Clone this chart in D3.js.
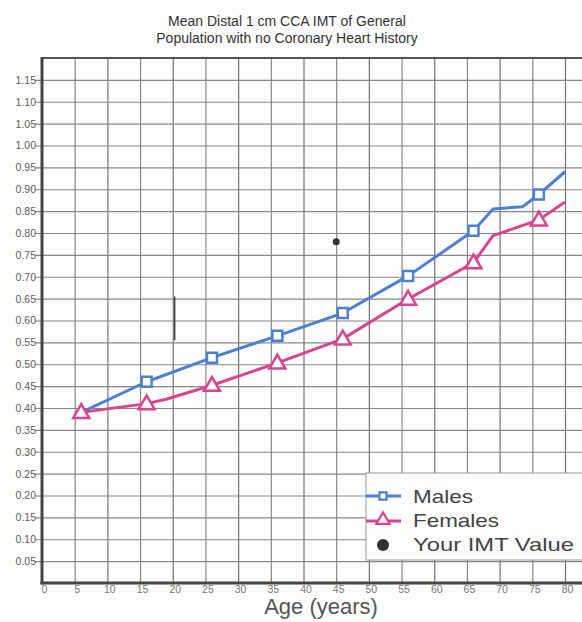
<!DOCTYPE html>
<html>
<head>
<meta charset="utf-8">
<script src="https://cdn.jsdelivr.net/npm/d3@7/dist/d3.min.js"></script>
<style>
  html, body { margin: 0; padding: 0; background: #fff; }
  svg { display: block; font-family: "Liberation Sans", Arial, sans-serif; }
</style>
</head>
<body>
<svg id="chart" width="582" height="622"></svg>
<script>
// ---- data ----
const titleLines = ["Mean Distal 1 cm CCA IMT of General", "Population with no Coronary Heart History"];
const xTicks = [0, 5, 10, 15, 20, 25, 30, 35, 40, 45, 50, 55, 60, 65, 70, 75, 80];
const yTicks = [0.05, 0.10, 0.15, 0.20, 0.25, 0.30, 0.35, 0.40, 0.45, 0.50, 0.55, 0.60, 0.65, 0.70, 0.75, 0.80, 0.85, 0.90, 0.95, 1.00, 1.05, 1.10, 1.15];
const maleAges   = [6, 16, 26, 36, 46, 56, 66, 69, 73.5, 76, 80];
const maleValues = [0.39, 0.46, 0.515, 0.565, 0.617, 0.702, 0.805, 0.855, 0.86, 0.888, 0.94];
const maleMarkerAges = [16, 26, 36, 46, 56, 66, 76];
const femaleAges   = [6, 16, 19, 26, 36, 46, 56, 66, 69, 76, 80];
const femaleValues = [0.39, 0.41, 0.42, 0.452, 0.503, 0.558, 0.649, 0.732, 0.794, 0.83, 0.871];
const femaleMarkerAges = [6, 16, 26, 36, 46, 56, 66, 76];
const yourAge = [45];
const yourValue = [0.78];
const legendLabels = ["Males", "Females", "Your IMT Value"];
const xTitle = "Age (years)";

// ---- layout ----
const W = 582, H = 622;
const svg = d3.select("#chart");
const x = d3.scaleLinear().domain([0, 80]).range([42, 565]);
const y = d3.scaleLinear().domain([0, 1.2]).range([583, 58]);
const xRight = W;
const blue = "#4d80d0", pink = "#d8448e";

// background
svg.append("rect").attr("width", W).attr("height", H).attr("fill", "#fdfdfd");

// grid (vertical)
const gx = svg.append("g").attr("transform", `translate(0,${y(0)})`)
  .call(d3.axisBottom(x).tickValues(xTicks.filter(d => d > 0)).tickSize(-(y(0) - y(1.2))).tickFormat(""));
gx.select(".domain").remove();
gx.selectAll(".tick line").attr("stroke", d => d % 10 === 0 ? "#737373" : "#878787").attr("stroke-width", 1.2);
// grid (horizontal), extending a little left of the axis as tick marks
const gy = svg.append("g").attr("transform", `translate(${xRight},0)`)
  .call(d3.axisLeft(y).tickValues(yTicks).tickSize(xRight - x(0) + 7).tickFormat(""));
gy.select(".domain").remove();
gy.selectAll(".tick line").attr("stroke", "#878787").attr("stroke-width", 1.2);

// scan artifact mark
svg.append("line").attr("x1", x(20.3)).attr("x2", x(20.3)).attr("y1", y(0.655)).attr("y2", y(0.555))
  .attr("stroke", "#333").attr("stroke-width", 1.3);

// frame
svg.append("line").attr("x1", x(0)).attr("x2", xRight).attr("y1", y(1.2)).attr("y2", y(1.2))
  .attr("stroke", "#555").attr("stroke-width", 2);
svg.append("line").attr("x1", x(0)).attr("x2", x(0)).attr("y1", y(1.2) - 1).attr("y2", y(0) + 1.5)
  .attr("stroke", "#444").attr("stroke-width", 3);
svg.append("line").attr("x1", x(0) - 1.5).attr("x2", xRight).attr("y1", y(0)).attr("y2", y(0))
  .attr("stroke", "#444").attr("stroke-width", 3);

// y tick labels
const ly = svg.append("g").attr("transform", `translate(${x(0) - 6},0)`)
  .call(d3.axisLeft(y).tickValues(yTicks).tickSize(0).tickPadding(0).tickFormat(d3.format(".2f")));
ly.select(".domain").remove();
ly.selectAll("text").attr("fill", "#5e5e5e").attr("font-size", 10.5).attr("font-family", "Liberation Sans, Arial, sans-serif");

// x tick labels
const lx = svg.append("g").attr("transform", `translate(2,${y(0) + 1})`)
  .call(d3.axisBottom(x).tickValues(xTicks).tickSize(0).tickPadding(2).tickFormat(d3.format("d")));
lx.select(".domain").remove();
lx.selectAll("text").attr("fill", "#777").attr("font-size", 10.5).attr("font-family", "Liberation Sans, Arial, sans-serif");

// title
svg.append("g").selectAll("text").data(titleLines).join("text")
  .attr("x", 287).attr("y", (d, i) => 26 + i * 17)
  .attr("text-anchor", "middle").attr("font-size", 14).attr("fill", "#333").text(d => d);

// x title
svg.append("text").attr("x", 321).attr("y", 614).attr("text-anchor", "middle")
  .attr("font-size", 22).attr("fill", "#555").text(xTitle);

// lines
const line = d3.line().x(d => x(d[0])).y(d => y(d[1]));
const males = maleAges.map((a, i) => [a, maleValues[i]]);
const females = femaleAges.map((a, i) => [a, femaleValues[i]]);
svg.append("path").datum(males).attr("d", line).attr("fill", "none").attr("stroke", blue).attr("stroke-width", 3).attr("stroke-linejoin", "round");
svg.append("path").datum(females).attr("d", line).attr("fill", "none").attr("stroke", pink).attr("stroke-width", 3).attr("stroke-linejoin", "round");

const sq = d3.symbol().type(d3.symbolSquare).size(100);
const tri = d3.symbol().type(d3.symbolTriangle).size(110);
svg.append("g").selectAll("path").data(males.filter(d => maleMarkerAges.includes(d[0]))).join("path")
  .attr("d", sq).attr("transform", d => `translate(${x(d[0])},${y(d[1])})`)
  .attr("fill", "#fff").attr("stroke", blue).attr("stroke-width", 2.5);
svg.append("g").selectAll("path").data(females.filter(d => femaleMarkerAges.includes(d[0]))).join("path")
  .attr("d", tri).attr("transform", d => `translate(${x(d[0])},${y(d[1]) + 1})`)
  .attr("fill", "#fff").attr("stroke", pink).attr("stroke-width", 2.5);

// your IMT
svg.append("g").selectAll("circle").data(yourAge.map((a, i) => [a, yourValue[i]])).join("circle")
  .attr("cx", d => x(d[0])).attr("cy", d => y(d[1])).attr("r", 3.5).attr("fill", "#333");

// legend
const lg = svg.append("g");
lg.append("rect").attr("x", 366).attr("y", 473).attr("width", 240).attr("height", 87)
  .attr("fill", "#fdfdfd").attr("stroke", "#999").attr("stroke-width", 1);
const rows = [503, 527, 551];
const lens = [60, 86, 161];
lg.append("line").attr("x1", 366).attr("x2", 401).attr("y1", rows[0] - 7).attr("y2", rows[0] - 7).attr("stroke", blue).attr("stroke-width", 3);
lg.append("path").attr("d", d3.symbol().type(d3.symbolSquare).size(50)).attr("transform", `translate(383,${rows[0] - 7})`)
  .attr("fill", "#fff").attr("stroke", blue).attr("stroke-width", 2.2);
lg.append("line").attr("x1", 366).attr("x2", 401).attr("y1", rows[1] - 6).attr("y2", rows[1] - 6).attr("stroke", pink).attr("stroke-width", 3);
lg.append("path").attr("d", d3.symbol().type(d3.symbolTriangle).size(75)).attr("transform", `translate(383,${rows[1] - 7})`)
  .attr("fill", "#fff").attr("stroke", pink).attr("stroke-width", 2.2);
lg.append("circle").attr("cx", 383).attr("cy", rows[2] - 6).attr("r", 6).attr("fill", "#333");
lg.selectAll("text").data(legendLabels).join("text")
  .attr("x", 413).attr("y", (d, i) => rows[i]).attr("font-size", 19).attr("fill", "#444")
  .attr("textLength", (d, i) => lens[i]).attr("lengthAdjust", "spacingAndGlyphs").text(d => d);
</script>
</body>
</html>
